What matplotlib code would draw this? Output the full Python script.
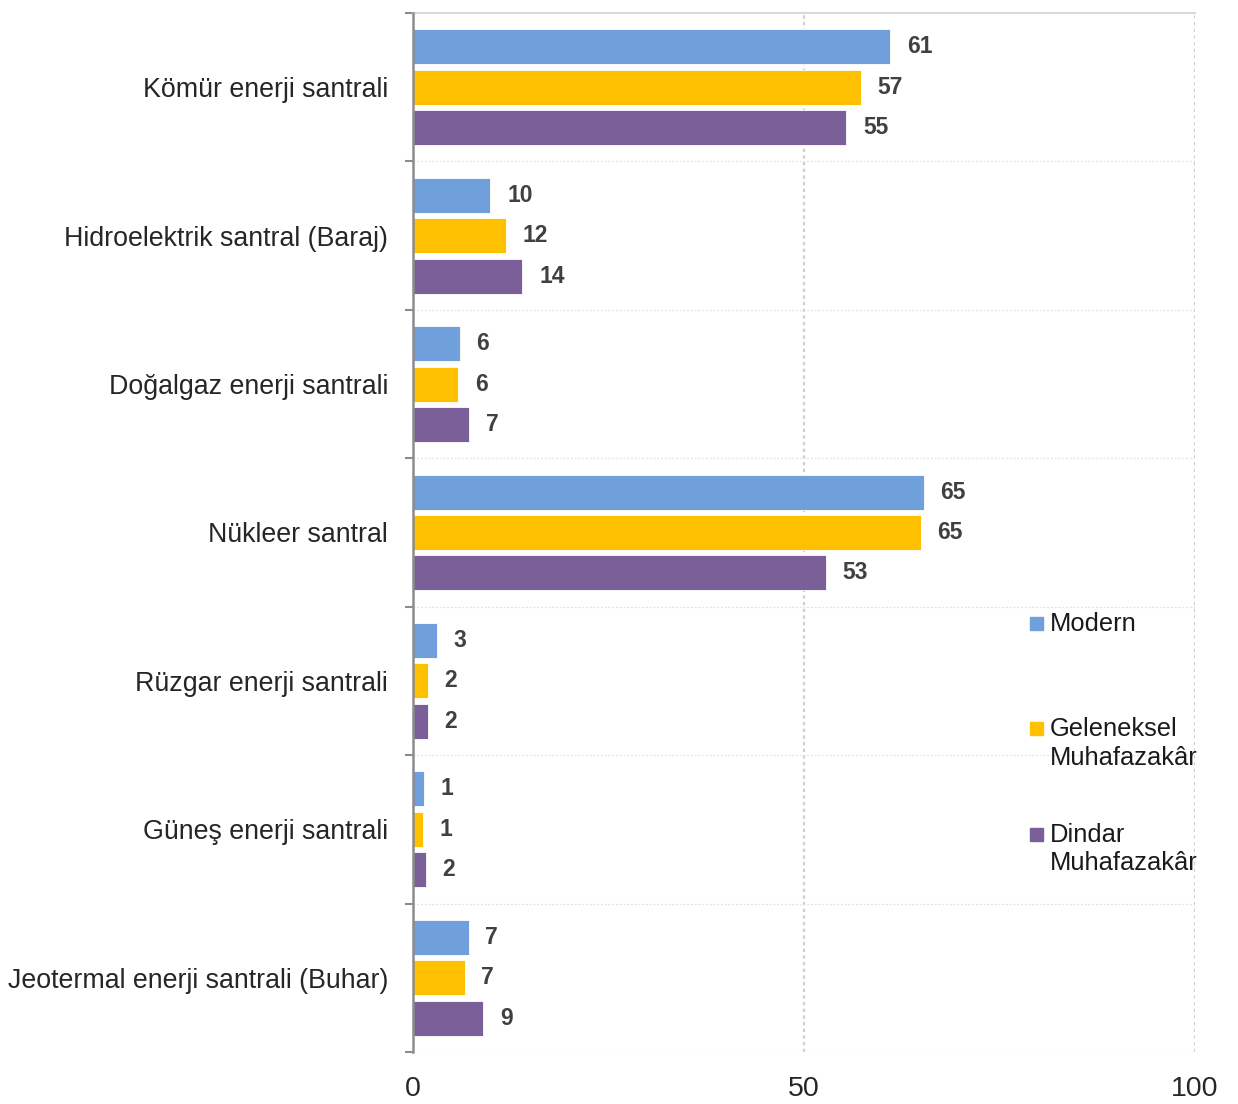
import matplotlib
matplotlib.use("Agg")
import matplotlib.pyplot as plt
import numpy as np
from matplotlib.patches import Rectangle

categories = [
    "Kömür enerji santrali",
    "Hidroelektrik santral (Baraj)",
    "Doğalgaz enerji santrali",
    "Nükleer santral",
    "Rüzgar enerji santrali",
    "Güneş enerji santrali",
    "Jeotermal enerji santrali (Buhar)",
]
series_names = ["Modern", "Geleneksel\nMuhafazakâr", "Dindar\nMuhafazakâr"]
modern = [61.0, 9.9, 6.0, 65.3, 3.1, 1.4, 7.1]
geleneksel = [57.3, 11.9, 5.8, 64.9, 1.9, 1.3, 6.6]
dindar = [55.4, 14.0, 7.2, 52.8, 1.9, 1.6, 9.0]
x_ticks = [0, 50, 100]

colors = ["#6FA0DC", "#FFC000", "#7B5F99"]
label_font = ["Liberation Sans", "DejaVu Sans"]

fig = plt.figure(figsize=(12.38, 11.04), dpi=100)
ax = fig.add_axes([413 / 1238, 1 - 1052 / 1104, (1195 - 413) / 1238, (1052 - 13) / 1104])

y = np.arange(len(categories))
offsets = [-0.272, 0.0, 0.272]
h = 0.236
for vals, off, col in zip([modern, geleneksel, dindar], offsets, colors):
    bars = ax.barh(y + off, vals, height=h, color=col, edgecolor="white", linewidth=0.6, zorder=3)
    ax.bar_label(bars, labels=[f"{v:.0f}" for v in vals], padding=12,
                 fontsize=16.5, fontweight="bold", color="#404040",
                 family=label_font)

ax.set_xlim(0, 100)
ax.set_ylim(len(categories) - 0.5, -0.5)

# y axis: labels at centers, ticks at boundaries
ax.set_yticks(y)
ax.set_yticklabels(categories, fontsize=19.3, color="#262626", family=label_font)
ax.tick_params(axis="y", which="major", length=0, pad=18)
ax.set_yticks(np.arange(-0.5, len(categories), 1.0), minor=True)
ax.tick_params(axis="y", which="minor", length=6, width=1.5, color="#8c8c8c", direction="out")

ax.set_xticks(x_ticks)
ax.set_xticklabels([str(t) for t in x_ticks], fontsize=20.5, color="#262626", family=label_font)
ax.tick_params(axis="x", length=0, pad=17.5)

# grid
for xv in x_ticks[1:]:
    ax.axvline(xv, color="#d0d0d0", linewidth=1.6, linestyle=(0, (1.5, 1.5)), zorder=1)
ax.grid(axis="y", which="minor", color="#e3e3e3", linewidth=0.9, linestyle=(0, (1.5, 1.5)), zorder=1)

for s in ["right", "bottom"]:
    ax.spines[s].set_visible(False)
ax.spines["top"].set_color("#d9d9d9")
ax.spines["top"].set_linewidth(1.5)
ax.spines["left"].set_color("#8c8c8c")
ax.spines["left"].set_linewidth(1.8)
ax.spines["left"].set_zorder(4)

# legend (manual, handle aligned with first line)
W, H = 1238, 1104
leg_x_sq = 1030
leg_x_txt = 1050
first_baseline = 631
entry_step = 105.4
line_step = 28.3
for i, (name, col) in enumerate(zip(series_names, colors)):
    base = first_baseline + i * entry_step
    fig.add_artist(Rectangle((leg_x_sq / W, 1 - (base - 1) / H), 13 / W, 13 / H,
                             transform=fig.transFigure, color=col))
    for j, line in enumerate(name.split("\n")):
        fig.text(leg_x_txt / W, 1 - (base + j * line_step) / H, line,
                 fontsize=18.4, color="#1a1a1a", family=label_font, va="baseline", ha="left")

fig.savefig("out.png", dpi=100)
